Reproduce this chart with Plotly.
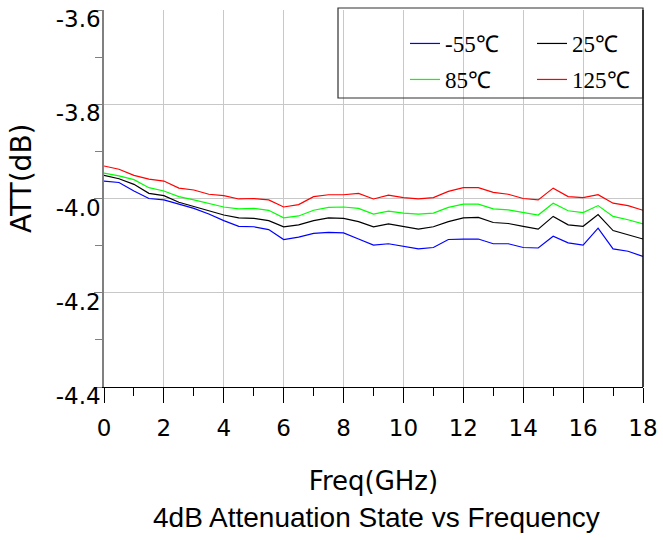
import plotly.graph_objects as go

freq = [0, 0.5, 1, 1.5, 2, 2.5, 3, 3.5, 4, 4.5, 5, 5.5, 6, 6.5, 7, 7.5, 8, 8.5, 9,
        9.5, 10, 10.5, 11, 11.5, 12, 12.5, 13, 13.5, 14, 14.5, 15, 15.5, 16, 16.5,
        17, 17.5, 18]

att_m55 = [-3.963, -3.966, -3.984, -4.000, -4.003, -4.012, -4.021, -4.033, -4.047, -4.059,
           -4.060, -4.066, -4.087, -4.082, -4.074, -4.072, -4.073, -4.086, -4.099, -4.096,
           -4.101, -4.107, -4.104, -4.087, -4.086, -4.086, -4.096, -4.096, -4.104, -4.105,
           -4.080, -4.094, -4.099, -4.063, -4.107, -4.112, -4.123]
att_25 = [-3.951, -3.958, -3.970, -3.989, -3.994, -4.008, -4.017, -4.026, -4.035, -4.041,
          -4.042, -4.047, -4.060, -4.056, -4.047, -4.041, -4.042, -4.049, -4.060, -4.054,
          -4.060, -4.065, -4.060, -4.049, -4.041, -4.040, -4.051, -4.053, -4.059, -4.065,
          -4.038, -4.056, -4.059, -4.034, -4.068, -4.077, -4.086]
att_85 = [-3.946, -3.952, -3.960, -3.977, -3.984, -3.996, -4.003, -4.011, -4.018, -4.022,
          -4.021, -4.025, -4.041, -4.037, -4.025, -4.019, -4.018, -4.021, -4.033, -4.027,
          -4.031, -4.033, -4.031, -4.019, -4.012, -4.012, -4.022, -4.024, -4.030, -4.035,
          -4.010, -4.026, -4.030, -4.015, -4.038, -4.045, -4.054]
att_125 = [-3.931, -3.938, -3.951, -3.959, -3.963, -3.978, -3.982, -3.991, -3.994, -4.001,
           -4.000, -4.003, -4.018, -4.013, -3.996, -3.992, -3.992, -3.989, -4.001, -3.993,
           -3.998, -4.001, -3.998, -3.985, -3.977, -3.977, -3.987, -3.991, -4.000, -4.003,
           -3.978, -3.996, -3.998, -3.992, -4.010, -4.015, -4.025]

series_names = ["-55℃", "25℃", "85℃", "125℃"]
series_colors = ["#0000FF", "#000000", "#00FF00", "#FF0000"]
series_values = [att_m55, att_25, att_85, att_125]
series_legend = ["legend", "legend", "legend2", "legend2"]

x_ticks = [0, 2, 4, 6, 8, 10, 12, 14, 16, 18]
y_ticks = [-4.4, -4.2, -4.0, -3.8, -3.6]
y_ticktext = ["-4.4", "-4.2", "-4.0", "-3.8", "-3.6"]

W, H = 663, 540
ML, MR, MT, MB = 104, 20, 10, 153
PW, PH = W - ML - MR, H - MT - MB


def px_x(p):
    return (p - ML) / PW


def px_y(p):
    return (H - MB - p) / PH


fig = go.Figure()
for name, color, vals, lg in zip(series_names, series_colors, series_values, series_legend):
    fig.add_trace(go.Scatter(x=freq, y=vals, mode="lines", name=name, legend=lg,
                             line=dict(color=color, width=1.2)))

tick_font = dict(family="DejaVu Sans", size=23, color="black")
legend_common = dict(
    orientation="h", xanchor="left", yanchor="top",
    bgcolor="rgba(0,0,0,0)", borderwidth=0,
    font=dict(family="Liberation Serif", size=23, color="black"),
    entrywidth=82, entrywidthmode="pixels", tracegroupgap=0,
)

fig.update_layout(
    width=W, height=H,
    margin=dict(l=ML, r=MR, t=MT, b=MB, pad=0, autoexpand=False),
    paper_bgcolor="white", plot_bgcolor="white",
    showlegend=True,
    legend=dict(x=px_x(405), y=px_y(22), **legend_common),
    legend2=dict(x=px_x(405), y=px_y(58), **legend_common),
    xaxis=dict(
        range=[0, 18], tickvals=x_ticks, ticktext=[str(v) for v in x_ticks],
        showgrid=True, gridcolor="#c8c8c8", gridwidth=1,
        showline=True, linecolor="black", linewidth=1,
        ticks="outside", ticklen=15, tickcolor="black", tickwidth=1,
        tickfont=tick_font, zeroline=False, ticklabelstandoff=5, automargin=False,
        minor=dict(dtick=1, tick0=0, ticks="outside", ticklen=8, tickcolor="black",
                   showgrid=False),
        title=dict(text="Freq(GHz)", font=dict(family="DejaVu Sans", size=26, color="black"),
                   standoff=32),
    ),
    yaxis=dict(
        range=[-4.4, -3.6], tickvals=y_ticks, ticktext=y_ticktext,
        showgrid=True, gridcolor="#c8c8c8", gridwidth=1,
        showline=True, linecolor="#808080", linewidth=1.5,
        ticks="outside", ticklen=8, tickcolor="#808080", tickwidth=1,
        tickfont=tick_font, zeroline=False, ticklabelshift=9, ticklabelstandoff=-11,
        automargin=False,
        minor=dict(dtick=0.1, tick0=-4.4, ticks="outside", ticklen=7, tickcolor="#808080",
                   showgrid=False),
    ),
    annotations=[
        dict(text="ATT(dB)", xref="paper", yref="paper", x=px_x(22), y=px_y(178),
             xanchor="center", yanchor="middle", textangle=-90, showarrow=False,
             font=dict(family="DejaVu Sans", size=28, color="black")),
        dict(text="4dB Attenuation State vs Frequency", xref="paper", yref="paper",
             x=px_x(377), y=px_y(517), xanchor="center", yanchor="middle", showarrow=False,
             font=dict(family="Liberation Sans", size=28, color="black")),
    ],
    shapes=[
        dict(type="line", xref="paper", yref="paper", x0=1, x1=1, y0=0, y1=1,
             line=dict(color="black", width=1.5)),
        dict(type="rect", xref="paper", yref="paper", x0=px_x(338), x1=1,
             y0=px_y(98), y1=px_y(8), line=dict(color="#303030", width=1.2),
             fillcolor="rgba(0,0,0,0)"),
    ],
)

fig.write_html("out.html")
